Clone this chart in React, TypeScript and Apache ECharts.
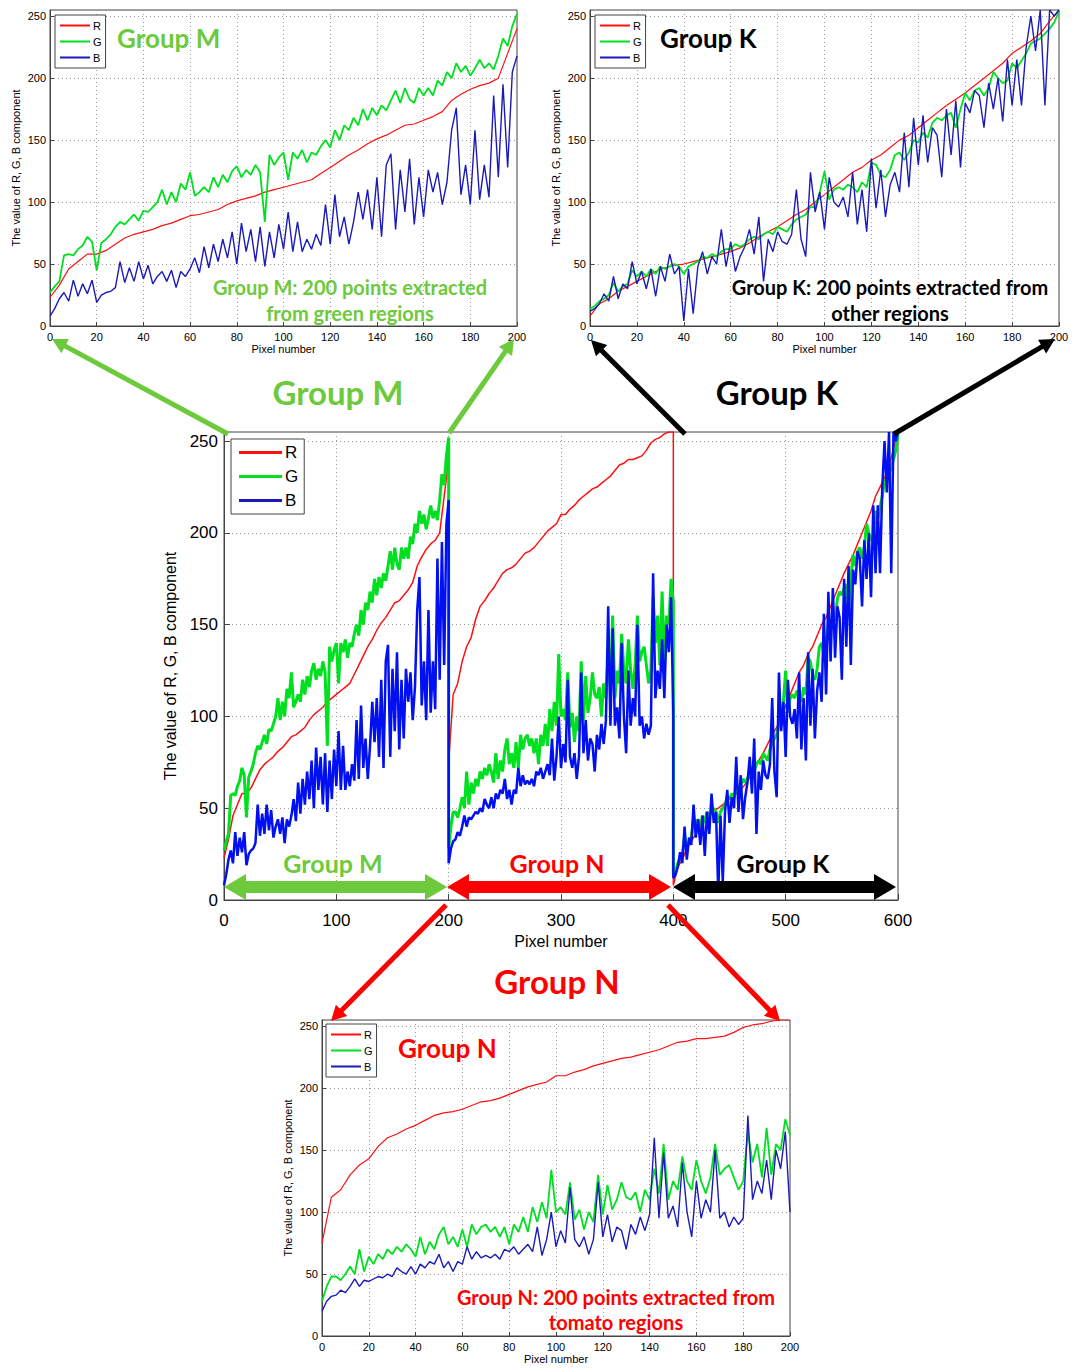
import React, { useEffect, useRef } from "react";
import * as echarts from "echarts";

// ---------------- DATA ----------------
// G and B sampled every 2 pixels (x = 0..200), R every 4 pixels (x = 0..200)
const G_STEP = 2;
const R_STEP = 4;
const GROUP_OFFSETS = [0, 200, 400]; // M, N, K position in the combined chart

const xTicksSmall = [0, 20, 40, 60, 80, 100, 120, 140, 160, 180, 200];
const xTicksBig = [0, 100, 200, 300, 400, 500, 600];
const yTicks = [0, 50, 100, 150, 200, 250];

// Group M (green regions)
const mR = [23, 33, 46, 52, 58, 58, 61, 66, 71, 74, 76, 78, 81, 83, 86, 89, 90, 92, 94, 98, 101, 103, 105, 108, 110, 112, 114, 116, 118, 123, 128, 133, 138, 142, 147, 151, 154, 158, 162, 163, 166, 169, 173, 182, 187, 191, 194, 196, 200, 220, 240];
const mG = [27, 32, 36, 57, 58, 57, 62, 65, 72, 68,
  45, 67, 70, 74, 80, 84, 82, 86, 90, 85,
  93, 92, 96, 100, 110, 98, 108, 100, 115, 110,
  124, 105, 108, 112, 108, 120, 112, 122, 116, 125,
  129, 120, 126, 122, 130, 124, 84, 138, 130, 136,
  140, 118, 140, 135, 142, 132, 140, 138, 145, 150,
  144, 158, 150, 162, 158, 168, 162, 175, 166, 176,
  170, 178, 174, 182, 190, 180, 192, 183, 180, 192,
  186, 192, 186, 198, 194, 205, 200, 212, 205, 210,
  202, 208, 215, 208, 212, 207, 218, 232, 226, 242,
  252];
const mB = [8, 14, 22, 27, 20, 37, 24, 34, 26, 37,
  19, 25, 27, 28, 31, 52, 35, 47, 36, 52,
  38, 49, 34, 40, 44, 36, 45, 31, 44, 40,
  46, 55, 43, 64, 47, 66, 52, 70, 55, 76,
  50, 83, 60, 78, 52, 80, 48, 76, 55, 82,
  62, 92, 60, 84, 60, 70, 62, 74, 65, 98,
  66, 106, 72, 88, 66, 84, 108, 86, 110, 78,
  120, 72, 130, 139, 78, 126, 92, 135, 82, 120,
  88, 126, 108, 124, 98, 116, 158, 176, 106, 130,
  98, 158, 102, 130, 104, 186, 120, 195, 128, 205,
  218];

// Group N (tomato regions)
const nR = [75, 112, 118, 130, 138, 143, 153, 160, 163, 167, 170, 174, 178, 180, 181, 183, 186, 189, 190, 192, 195, 198, 201, 203, 205, 210, 210, 213, 215, 218, 220, 222, 224, 225, 227, 229, 231, 234, 237, 238, 240, 240, 241, 242, 245, 249, 251, 252, 254, 255, 255];
const nG = [28, 40, 48, 48, 45, 50, 56, 50, 70, 52,
  64, 58, 66, 62, 70, 66, 72, 68, 74, 70,
  64, 80, 66, 76, 70, 82, 88, 74, 80, 72,
  86, 72, 90, 82, 88, 90, 84, 88, 80, 88,
  74, 90, 84, 96, 84, 104, 92, 108, 95, 134,
  100, 104, 98, 124, 94, 102, 86, 100, 92, 130,
  98, 122, 102, 110, 124, 112, 110, 116, 100, 118,
  110, 135, 115, 155, 110, 125, 118, 145, 125, 118,
  142, 125, 115, 128, 155, 130, 135, 138, 128, 118,
  125, 165, 140, 155, 128, 168, 130, 155, 150, 175,
  162];
const nB = [20, 28, 32, 33, 37, 35, 40, 46, 40, 45,
  44, 46, 48, 47, 50, 48, 55, 52, 50, 56,
  50, 58, 55, 60, 58, 66, 55, 60, 52, 60,
  58, 72, 62, 68, 63, 65, 63, 66, 62, 70,
  68, 72, 66, 70, 74, 68, 88, 65, 78, 100,
  72, 85, 75, 120, 78, 72, 80, 66, 78, 124,
  80, 98, 76, 88, 85, 70, 90, 82, 96, 85,
  98, 160, 95, 148, 95, 105, 88, 140, 100, 80,
  125, 95, 110, 100, 150, 95, 100, 88, 96, 90,
  95, 178, 110, 125, 115, 142, 110, 150, 135, 165,
  100];

// Group K (other regions)
const kR = [8, 18, 22, 28, 32, 36, 40, 44, 47, 49, 50, 52, 54, 56, 58, 60, 63, 67, 72, 76, 80, 85, 90, 94, 100, 106, 112, 118, 124, 128, 134, 138, 144, 150, 154, 160, 166, 172, 178, 183, 188, 194, 200, 206, 212, 220, 225, 230, 236, 246, 255];
const kG = [14, 16, 20, 22, 25, 35, 28, 32, 34, 45,
  40, 44, 40, 46, 42, 48, 46, 48, 50, 48,
  42, 48, 50, 52, 56, 55, 58, 56, 60, 62,
  62, 66, 64, 66, 70, 72, 70, 74, 76, 74,
  80, 78, 76, 82, 86, 88, 90, 96, 96, 108,
  125, 102, 110, 112, 110, 114, 112, 108, 116, 112,
  132, 130, 122, 120, 126, 138, 140, 134, 140, 150,
  148, 156, 152, 164, 168, 166, 170, 172, 160, 175,
  188, 182, 190, 192, 186, 192, 205, 200, 196, 198,
  212, 208, 214, 220, 228, 230, 232, 236, 240, 245,
  254];
const kB = [12, 14, 18, 26, 20, 40, 22, 34, 30, 52,
  34, 44, 30, 46, 24, 48, 36, 58, 42, 48,
  4, 46, 10, 48, 60, 42, 56, 50, 78, 48,
  68, 44, 56, 64, 78, 58, 88, 36, 70, 60,
  76, 68, 66, 74, 110, 70, 56, 124, 92, 108,
  78, 120, 100, 96, 104, 88, 124, 82, 110, 76,
  135, 95, 126, 88, 114, 124, 108, 156, 112, 168,
  130, 170, 132, 160, 154, 120, 175, 138, 182, 128,
  180, 172, 190, 186, 160, 196, 175, 200, 165, 215,
  178, 215, 178, 225, 250, 222, 255, 178, 255, 250,
  255];

// ---------------- STYLE ----------------
const F = "'Liberation Sans', Arial, sans-serif";
const TF = "Lato, 'Open Sans', sans-serif";
const GREEN_TXT = "#6cca3c";
const RED = "#ff0000";
const C_R = "#ff1010";
const C_G = "#00e020";
const C_B_SMALL = "#1a1ab8";
const C_B_BIG = "#0010f0";

const pts = (arr: number[], step: number, off = 0) => arr.map((v, i) => [i * step + off, v]);
const combined = (a: number[], b: number[], c: number[], step: number) => [
  ...pts(a, step, GROUP_OFFSETS[0]),
  ...pts(b, step, GROUP_OFFSETS[1]),
  ...pts(c, step, GROUP_OFFSETS[2]),
];

function arrow(x0: number, y0: number, x1: number, y1: number, w: number, head: number, hw: number, color: string, both = false) {
  const dx = x1 - x0, dy = y1 - y0;
  const L = Math.hypot(dx, dy);
  const ux = dx / L, uy = dy / L, px = -uy, py = ux;
  const els: any[] = [];
  const sx = both ? x0 + ux * head * 0.9 : x0;
  const sy = both ? y0 + uy * head * 0.9 : y0;
  const ex = x1 - ux * head * 0.9, ey = y1 - uy * head * 0.9;
  els.push({ type: "line", z: 100, shape: { x1: sx, y1: sy, x2: ex, y2: ey }, style: { stroke: color, lineWidth: w } });
  const tri = (tx: number, ty: number, dirx: number, diry: number) => ({
    type: "polygon", z: 100,
    shape: { points: [[tx, ty], [tx - dirx * head + px * hw, ty - diry * head + py * hw], [tx - dirx * head - px * hw, ty - diry * head - py * hw]] },
    style: { fill: color },
  });
  els.push(tri(x1, y1, ux, uy));
  if (both) els.push(tri(x0, y0, -ux, -uy));
  return els;
}

function txt(x: number, y: number, text: string, color: string, size: number, align = "center", scaleX = 1) {
  return {
    type: "text", x, y, z: 101, scaleX,
    style: { text, fill: color, fontSize: size, fontWeight: "bold", fontFamily: TF, align, verticalAlign: "middle" },
  };
}

const App: React.FC = () => {
  const ref = useRef<HTMLDivElement>(null);
  useEffect(() => {
    document.body.style.margin = "0";
    if (!ref.current) return;
    const chart = echarts.init(ref.current, null, { renderer: "svg" });

    const grids = [
      { left: 50, top: 10, width: 467, height: 316 },
      { left: 590, top: 10, width: 469, height: 316 },
      { left: 224, top: 432, width: 674, height: 468 },
      { left: 322, top: 1020, width: 468, height: 316 },
    ].map((g) => ({ ...g, show: true, borderColor: "#444", borderWidth: 1, backgroundColor: "#fff" }));

    const big = (i: number) => i === 2;
    const xAxes = [0, 1, 2, 3].map((i) => ({
      type: "value", gridIndex: i, min: 0, max: big(i) ? 600 : 200,
      interval: big(i) ? xTicksBig[1] - xTicksBig[0] : xTicksSmall[1] - xTicksSmall[0],
      name: "Pixel number", nameLocation: "middle", nameGap: big(i) ? 33 : 17,
      nameTextStyle: { fontSize: big(i) ? 16 : 11, fontFamily: F, color: "#000" },
      axisLine: { show: true, onZero: false, lineStyle: { color: "#444" } },
      axisTick: { show: true, inside: true, length: big(i) ? 6 : 4, lineStyle: { color: "#444" } },
      axisLabel: { fontSize: big(i) ? 17 : 11, fontFamily: F, color: "#000", margin: big(i) ? 12 : 5 },
      splitLine: { show: true, lineStyle: { color: "#999", type: [1, 3], width: 1 } },
    }));
    const yAxes = [0, 1, 2, 3].map((i) => ({
      type: "value", gridIndex: i, min: 0, max: 255, interval: yTicks[1] - yTicks[0],
      name: "The value of R, G, B component", nameLocation: "middle", nameGap: big(i) ? 38 : 29,
      nameTextStyle: { fontSize: big(i) ? 16 : 11, fontFamily: F, color: "#000" },
      axisLine: { show: true, onZero: false, lineStyle: { color: "#444" } },
      axisTick: { show: true, inside: true, length: big(i) ? 6 : 4, lineStyle: { color: "#444" } },
      axisLabel: { fontSize: big(i) ? 17 : 11, fontFamily: F, color: "#000", margin: big(i) ? 6 : 4, showMaxLabel: false },
      splitLine: { show: true, lineStyle: { color: "#999", type: [1, 3], width: 1 } },
    }));

    const mk = (name: string, gi: number, data: number[][], color: string, width: number) => ({
      type: "line", name, xAxisIndex: gi, yAxisIndex: gi, data, showSymbol: false, symbol: "none",
      clip: true, lineStyle: { color, width }, itemStyle: { color }, emphasis: { disabled: true },
    });

    const series = [
      mk("R", 0, pts(mR, R_STEP), C_R, 1.2),
      mk("G", 0, pts(mG, G_STEP), C_G, 1.8),
      mk("B", 0, pts(mB, G_STEP), C_B_SMALL, 1.4),
      mk("R", 1, pts(kR, R_STEP), C_R, 1.2),
      mk("G", 1, pts(kG, G_STEP), C_G, 1.8),
      mk("B", 1, pts(kB, G_STEP), C_B_SMALL, 1.4),
      mk("R", 2, combined(mR, nR, kR, R_STEP), C_R, 1.5),
      mk("G", 2, combined(mG, nG, kG, G_STEP), C_G, 3),
      mk("B", 2, combined(mB, nB, kB, G_STEP), C_B_BIG, 2.5),
      mk("R", 3, pts(nR, R_STEP), C_R, 1.2),
      mk("G", 3, pts(nG, G_STEP), C_G, 1.8),
      mk("B", 3, pts(nB, G_STEP), C_B_SMALL, 1.4),
    ];

    const legend = (left: number, top: number, isBig: boolean) => ({
      left, top, orient: "vertical", data: ["R", "G", "B"], icon: "rect",
      itemWidth: isBig ? 43 : 30, itemHeight: isBig ? 3 : 2, itemGap: isBig ? 7 : 5,
      padding: isBig ? [5, 6, 5, 8] : [5, 4, 5, 5],
      borderColor: "#444", borderWidth: 1, backgroundColor: "#fff", selectedMode: false,
      textStyle: { fontSize: isBig ? 17 : 11, fontFamily: F, color: "#000", padding: [0, 0, 0, -2] },
    });

    const graphics: any[] = [
      txt(117, 38, "Group M", GREEN_TXT, 26, "left"),
      txt(660, 38, "Group K", "#000", 26, "left"),
      txt(398, 1048, "Group N", RED, 26, "left"),
      txt(350, 287, "Group M: 200 points extracted", GREEN_TXT, 20),
      txt(350, 313, "from green regions", GREEN_TXT, 20),
      txt(890, 287, "Group K: 200 points extracted from", "#000", 20),
      txt(890, 313, "other regions", "#000", 20),
      txt(616, 1297, "Group N: 200 points extracted from", RED, 20),
      txt(616, 1322, "tomato regions", RED, 20),
      txt(338, 392, "Group M", GREEN_TXT, 33),
      txt(777, 392, "Group K", "#000", 33),
      txt(557, 981, "Group N", RED, 33),
      txt(333, 863, "Group M", GREEN_TXT, 25),
      txt(557, 863, "Group N", RED, 25),
      txt(783, 863, "Group K", "#000", 25),
      ...arrow(228, 434, 52, 339, 5, 15, 8, GREEN_TXT),
      ...arrow(449, 433, 514, 339, 5, 15, 8, GREEN_TXT),
      ...arrow(685, 434, 591, 340, 5, 15, 8, "#000"),
      ...arrow(894, 434, 1055, 339, 5, 15, 8, "#000"),
      ...arrow(446, 905, 331, 1021, 5, 15, 8, RED),
      ...arrow(668, 905, 780, 1021, 5, 15, 8, RED),
      ...arrow(224, 887, 447, 887, 12, 22, 13, GREEN_TXT, true),
      ...arrow(447, 887, 671, 887, 12, 22, 13, RED, true),
      ...arrow(673, 887, 896, 887, 12, 22, 13, "#000", true),
    ];

    chart.setOption({
      animation: false,
      backgroundColor: "#fff",
      grid: grids,
      xAxis: xAxes,
      yAxis: yAxes,
      legend: [legend(55, 15, false), legend(595, 15, false), legend(231, 439, true), legend(326, 1024, false)],
      series,
      graphic: graphics,
    });
    return () => chart.dispose();
  }, []);
  return <div ref={ref} style={{ width: 1075, height: 1372 }} />;
};

export default App;
